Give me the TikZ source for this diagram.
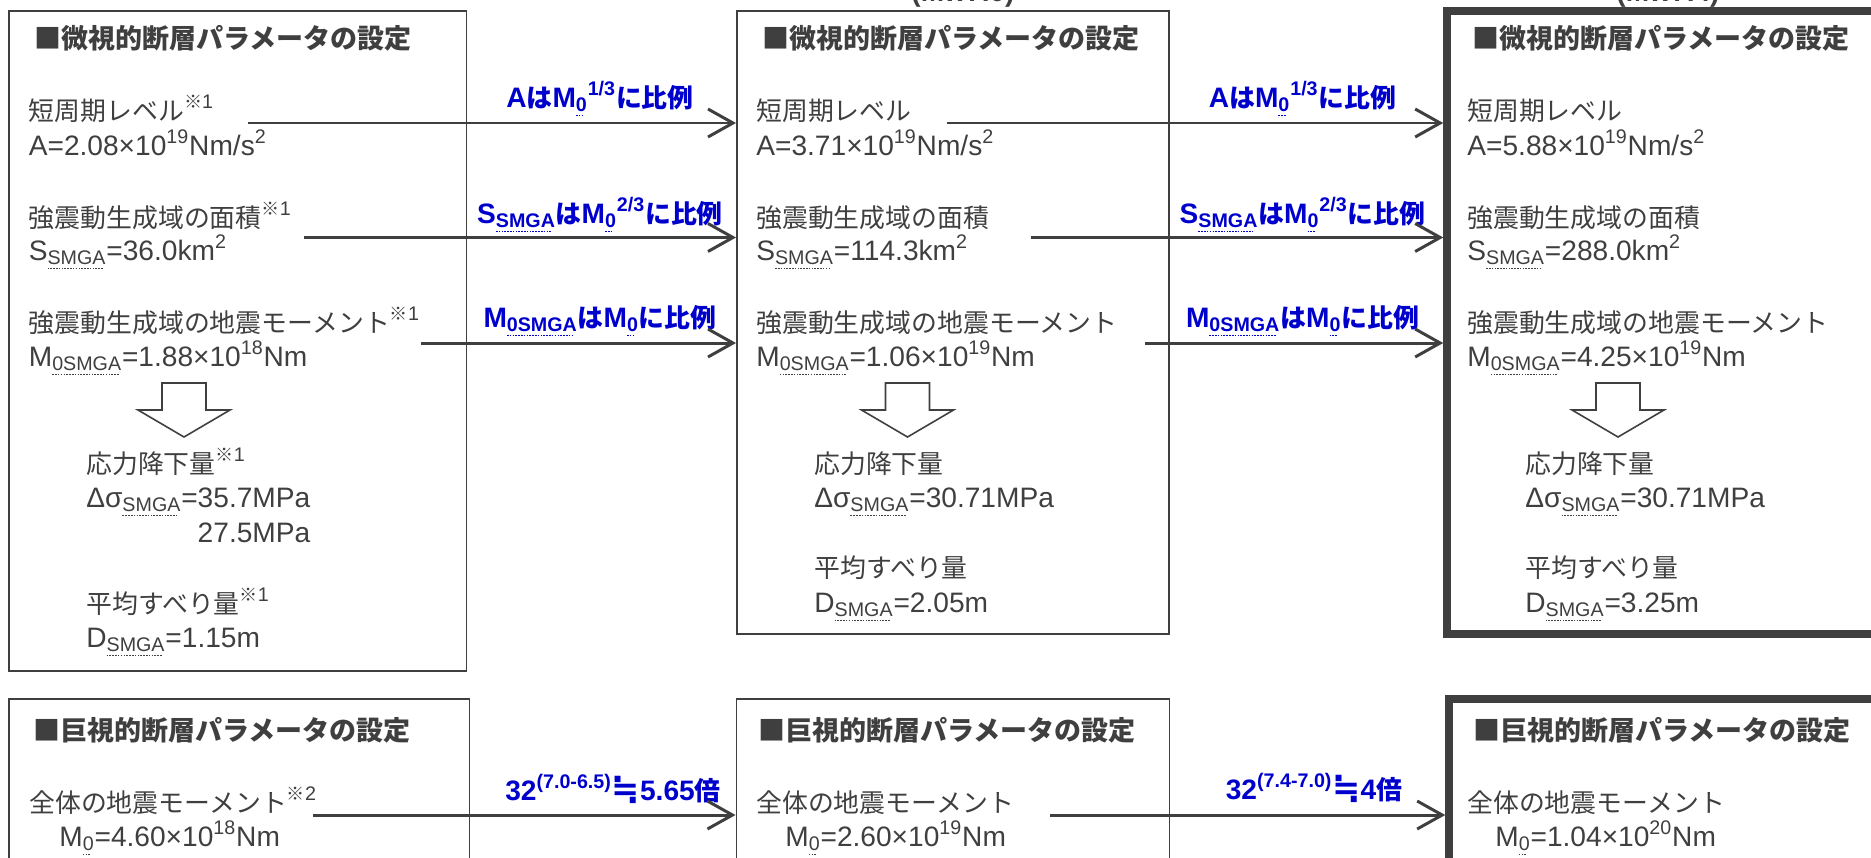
\documentclass[tikz,border=0pt]{standalone}
\usepackage{fontspec}
\setmainfont{Liberation Sans}
\newfontfamily\jp[Scale=0.92]{Noto Sans CJK JP}
\newfontfamily\sym[Scale=1.2]{DejaVu Sans}
\usepackage{tikz}
\usetikzlibrary{arrows.meta,calc}
\definecolor{ink}{HTML}{3F3F3F}
\definecolor{rateblue}{HTML}{0000CC}
\newcommand{\bodyfont}{\fontsize{16}{19}\selectfont}
\newcommand{\headfont}{\fontsize{16.7}{20}\selectfont\bfseries\jp}
\newcommand{\ratefont}{\fontsize{16}{19}\selectfont\bfseries}
\newcommand{\dotul}[1]{\setbox0\hbox{#1}\leavevmode\rlap{\raisebox{-0.22em}{\hbox to \wd0{\leaders\hbox to 1.6pt{\rule{0.9pt}{0.5pt}\hss}\hfil}}}\box0}
\newcommand{\subu}[1]{\textsubscript{\dotul{#1}}}
\newcommand{\supr}[1]{\textsuperscript{#1}}
\newcommand{\nt}[1]{\textsuperscript{{\jp ※}#1}}
\tikzset{
  panel/.style={draw=ink,line width=1.1pt,inner sep=0pt},
  keypanel/.style={panel,line width=4.3pt},
  item/.style={anchor=base west,inner sep=0pt,text=ink,font=\bodyfont},
  head/.style={anchor=west,inner sep=0pt,text=ink,font=\headfont},
  rate/.style={anchor=base,inner sep=0pt,text=rateblue,font=\ratefont},
  mw/.style={anchor=base,inner sep=0pt,text=ink,font=\bodyfont\bfseries},
  arr/.style={draw=ink,line width=1.7pt,-{Straight Barb[length=5mm,width=5.6mm]}},
  hollow/.pic={\draw[draw=ink,line width=0.9pt,fill=white] (-0.44,0) -- (0.44,0) -- (0.44,-0.54) -- (0.92,-0.54) -- (0,-1.08) -- (-0.92,-0.54) -- (-0.44,-0.54) -- cycle;}
}

\begin{document}
\begin{tikzpicture}
\useasboundingbox (0,0) rectangle (37.42,-17.14);
\node[panel,minimum width=9.15cm,minimum height=13.2cm] (mic1) at (4.755,-6.82) {};
\node[panel,minimum width=8.64cm,minimum height=12.46cm] (mic2) at (19.06,-6.45) {};
\node[keypanel,minimum width=8.76cm,minimum height=12.46cm] (mic3) at (33.32,-6.45) {};
\node[panel,minimum width=9.21cm,minimum height=3.62cm] (mac1) at (4.785,-15.79) {};
\node[panel,minimum width=8.66cm,minimum height=3.62cm] (mac2) at (19.06,-15.79) {};
\node[keypanel,minimum width=8.72cm,minimum height=3.62cm] (mac3) at (33.34,-15.79) {};
\node[mw] (mw2) at (19.26,-0.03) {(Mw7.0)};
\node[mw] (mw3) at (33.36,-0.03) {(Mw7.4)};

\node[head] (h1) at (0.68,-0.76) {■微視的断層パラメータの設定};
\node[item] (lv1) at (0.57,-2.40) {{\jp 短周期レベル}\nt{1}};
\node[item] (av1) at (0.57,-3.10) {A=2.08×10\supr{19}Nm/s\supr{2}};
\node[item] (ar1) at (0.57,-4.54) {{\jp 強震動生成域の面積}\nt{1}};
\node[item] (sv1) at (0.57,-5.20) {S\subu{SMGA}=36.0km\supr{2}};
\node[item] (mo1) at (0.57,-6.64) {{\jp 強震動生成域の地震モーメント}\nt{1}};
\node[item] (mv1) at (0.57,-7.32) {M\subu{0SMGA}=1.88×10\supr{18}Nm};
\pic at (3.68,-7.66) {hollow};
\node[item] (sd1) at (1.72,-9.46) {{\jp 応力降下量}\nt{1}};
\node[item] (dv1) at (1.72,-10.14) {Δσ\subu{SMGA}=35.7MPa};
\node[item,anchor=base east] (dw1) at ($(dv1.base east)+(0,-0.70)$) {27.5MPa};
\node[item] (sl1) at (1.72,-12.26) {{\jp 平均すべり量}\nt{1}};
\node[item] (dl1) at (1.72,-12.94) {D\subu{SMGA}=1.15m};

\node[head] (h2) at (15.24,-0.76) {■微視的断層パラメータの設定};
\node[item] (lv2) at (15.12,-2.40) {\jp 短周期レベル};
\node[item] (av2) at (15.12,-3.10) {A=3.71×10\supr{19}Nm/s\supr{2}};
\node[item] (ar2) at (15.12,-4.54) {\jp 強震動生成域の面積};
\node[item] (sv2) at (15.12,-5.20) {S\subu{SMGA}=114.3km\supr{2}};
\node[item] (mo2) at (15.12,-6.64) {\jp 強震動生成域の地震モーメント};
\node[item] (mv2) at (15.12,-7.32) {M\subu{0SMGA}=1.06×10\supr{19}Nm};
\pic at (18.15,-7.66) {hollow};
\node[item] (sd2) at (16.28,-9.46) {\jp 応力降下量};
\node[item] (dv2) at (16.28,-10.14) {Δσ\subu{SMGA}=30.71MPa};
\node[item] (sl2) at (16.28,-11.54) {\jp 平均すべり量};
\node[item] (dl2) at (16.28,-12.24) {D\subu{SMGA}=2.05m};

\node[head] (h3) at (29.44,-0.76) {■微視的断層パラメータの設定};
\node[item] (lv3) at (29.34,-2.40) {\jp 短周期レベル};
\node[item] (av3) at (29.34,-3.10) {A=5.88×10\supr{19}Nm/s\supr{2}};
\node[item] (ar3) at (29.34,-4.54) {\jp 強震動生成域の面積};
\node[item] (sv3) at (29.34,-5.20) {S\subu{SMGA}=288.0km\supr{2}};
\node[item] (mo3) at (29.34,-6.64) {\jp 強震動生成域の地震モーメント};
\node[item] (mv3) at (29.34,-7.32) {M\subu{0SMGA}=4.25×10\supr{19}Nm};
\pic at (32.36,-7.66) {hollow};
\node[item] (sd3) at (30.5,-9.46) {\jp 応力降下量};
\node[item] (dv3) at (30.5,-10.14) {Δσ\subu{SMGA}=30.71MPa};
\node[item] (sl3) at (30.5,-11.54) {\jp 平均すべり量};
\node[item] (dl3) at (30.5,-12.24) {D\subu{SMGA}=3.25m};

\node[head] (H1) at (0.66,-14.6) {■巨視的断層パラメータの設定};
\node[item] (tm1) at (0.58,-16.24) {{\jp 全体の地震モーメント}\nt{2}};
\node[item] (tv1) at (1.18,-16.92) {M\subu{0}=4.60×10\supr{18}Nm};
\node[head] (H2) at (15.16,-14.6) {■巨視的断層パラメータの設定};
\node[item] (tm2) at (15.12,-16.24) {\jp 全体の地震モーメント};
\node[item] (tv2) at (15.7,-16.92) {M\subu{0}=2.60×10\supr{19}Nm};
\node[head] (H3) at (29.46,-14.6) {■巨視的断層パラメータの設定};
\node[item] (tm3) at (29.34,-16.24) {\jp 全体の地震モーメント};
\node[item] (tv3) at (29.9,-16.92) {M\subu{0}=1.04×10\supr{20}Nm};

\node[rate] (r11) at (12.0,-2.14) {A{\jp は}M\subu{0}\supr{1/3}{\jp に比例}};
\node[rate] (r12) at (12.0,-4.46) {S\subu{SMGA}{\jp は}M\subu{0}\supr{2/3}{\jp に比例}};
\node[rate] (r13) at (12.0,-6.54) {M\subu{0SMGA}{\jp は}M\subu{0}{\jp に比例}};
\node[rate] (r21) at (26.05,-2.14) {A{\jp は}M\subu{0}\supr{1/3}{\jp に比例}};
\node[rate] (r22) at (26.05,-4.46) {S\subu{SMGA}{\jp は}M\subu{0}\supr{2/3}{\jp に比例}};
\node[rate] (r23) at (26.05,-6.54) {M\subu{0SMGA}{\jp は}M\subu{0}{\jp に比例}};
\node[rate] (g1) at (12.26,-16.0) {32\supr{(7.0-6.5)}{\sym ≒}5.65{\jp 倍}};
\node[rate] (g2) at (26.28,-15.98) {32\supr{(7.4-7.0)}{\sym ≒}4{\jp 倍}};

\coordinate (a11) at (4.96,-2.46);
\coordinate (a12) at (6.08,-4.75);
\coordinate (a13) at (8.42,-6.86);
\coordinate (a21) at (18.93,-2.46);
\coordinate (a22) at (20.61,-4.75);
\coordinate (a23) at (22.9,-6.86);
\coordinate (b1) at (6.26,-16.3);
\coordinate (b2) at (21.0,-16.3);
\draw[arr] (a11) -- (mic2.west |- a11); \draw[arr] (a12) -- (mic2.west |- a12); \draw[arr] (a13) -- (mic2.west |- a13);
\draw[arr] (a21) -- (mic3.west |- a21); \draw[arr] (a22) -- (mic3.west |- a22); \draw[arr] (a23) -- (mic3.west |- a23);
\draw[arr] (b1) -- (mac2.west |- b1); \draw[arr] (b2) -- (mac3.west |- b2);
\end{tikzpicture}
\end{document}
